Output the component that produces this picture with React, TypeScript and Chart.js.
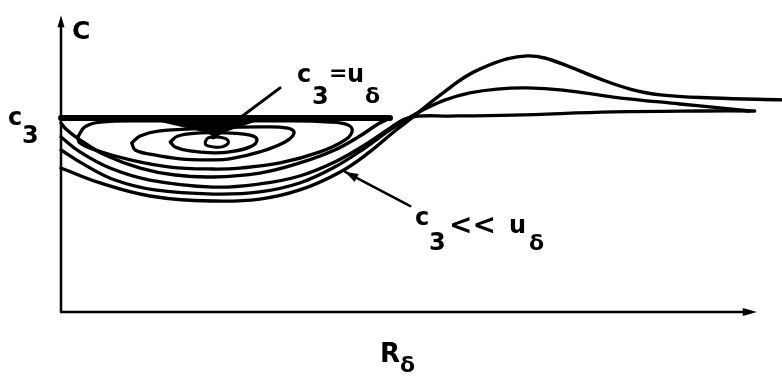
import { useEffect, useRef } from "react";
import { Chart, registerables } from "chart.js";

Chart.register(...registerables);

type P = [number, number]; // [R_delta, C]

// Level c3 and the ends of the drawn axes
const C3 = 1.0;
const AXIS_R_END = 9.94;
const AXIS_C_END = 1.53;

// Horizontal top of the outer closed loop at C = c3
const crestLine: P[] = [
  [0, C3],
  [4.7, C3],
];

// Lower half of the outer loop, returning to the axis just below c3
const outerLoop: P[] = [
  [4.7, 1.0], [4.53, 0.969], [4.27, 0.907], [3.91, 0.835], [3.41, 0.768],
  [2.84, 0.716], [2.17, 0.696], [1.63, 0.706], [1.13, 0.742], [0.63, 0.809],
  [0.27, 0.887], [0.07, 0.943], [0, 0.974],
];

// Nested closed orbits around the centre point
const orbitD: P[] = [
  [0.24, 0.902], [0.34, 0.954], [0.56, 0.979], [1.27, 0.985], [2.17, 0.985],
  [3.13, 0.985], [3.84, 0.979], [4.1, 0.964], [4.16, 0.933], [4.06, 0.887],
  [3.7, 0.825], [3.13, 0.768], [2.56, 0.742], [2.17, 0.737], [1.56, 0.747],
  [0.99, 0.784], [0.49, 0.835], [0.27, 0.871], [0.24, 0.902],
];
const orbitC: P[] = [
  [1.01, 0.871], [1.13, 0.907], [1.41, 0.933], [2.17, 0.948], [2.84, 0.954],
  [3.24, 0.948], [3.33, 0.923], [3.2, 0.876], [2.84, 0.825], [2.41, 0.789],
  [2.17, 0.784], [1.7, 0.789], [1.27, 0.814], [1.06, 0.835], [1.01, 0.871],
];
const orbitB: P[] = [
  [1.56, 0.876], [1.67, 0.907], [1.99, 0.923], [2.34, 0.923], [2.7, 0.912],
  [2.8, 0.887], [2.7, 0.851], [2.41, 0.825], [2.17, 0.82], [1.84, 0.83],
  [1.63, 0.851], [1.56, 0.876],
];
const orbitA: P[] = [
  [2.06, 0.876], [2.1, 0.897], [2.21, 0.902], [2.36, 0.892], [2.39, 0.871],
  [2.3, 0.851], [2.17, 0.851], [2.07, 0.861], [2.06, 0.876],
];
// Dark funnel joining the centre to the c3 line
const centreFunnel: P[] = [
  [1.41, 0.985], [2.77, 0.985], [2.3, 0.928], [2.2, 0.9], [2.1, 0.928],
  [1.41, 0.985],
];

// Open trajectories (c3 << u_delta) leaving the axis below c3
const pathFlat: P[] = [
  [0, 0.902], [0.27, 0.825], [0.7, 0.742], [1.27, 0.68], [2.17, 0.644],
  [2.84, 0.66], [3.41, 0.701], [3.91, 0.773], [4.34, 0.861], [4.7, 0.948],
  [4.91, 0.995], [5.1, 1.01], [5.56, 1.01], [6.46, 1.015], [7.89, 1.031],
  [9.13, 1.036], [9.91, 1.036],
];
const pathMid: P[] = [
  [0, 0.835], [0.34, 0.758], [0.77, 0.68], [1.34, 0.629], [2.17, 0.608],
  [2.84, 0.619], [3.41, 0.665], [3.91, 0.747], [4.34, 0.845], [4.7, 0.938],
  [4.99, 1.005], [5.17, 1.041], [5.49, 1.093], [5.84, 1.129], [6.23, 1.149],
  [6.66, 1.155], [7.17, 1.144], [7.89, 1.108], [8.84, 1.072], [9.41, 1.052],
  [9.84, 1.036],
];
const pathPeak: P[] = [
  [0, 0.742], [0.56, 0.665], [1.27, 0.598], [2.17, 0.572], [2.84, 0.582],
  [3.41, 0.629], [3.99, 0.722], [4.41, 0.825], [4.77, 0.933], [5.03, 1.005],
  [5.27, 1.077], [5.51, 1.144], [5.77, 1.211], [5.99, 1.253], [6.37, 1.304],
  [6.66, 1.32], [6.91, 1.309], [7.27, 1.263], [7.7, 1.201], [8.13, 1.149],
  [8.56, 1.119], [9.31, 1.103], [10.3, 1.093],
];

// Leader lines for the two annotations
const leaderCentre: P[] = [
  [3.13, 1.155],
  [2.17, 0.897],
];
const leaderOpen: P[] = [
  [4.99, 0.546],
  [4.06, 0.722],
];

const INK = "#000";
const FONT = '"DejaVu Sans", "Liberation Sans", sans-serif';

type Run = [string, number, number, number]; // text, size, dx, dy (px)

function arrowHead(
  ctx: CanvasRenderingContext2D,
  fx: number, fy: number, tx: number, ty: number,
  len: number, half: number
) {
  const a = Math.atan2(ty - fy, tx - fx);
  const bx = tx - len * Math.cos(a);
  const by = ty - len * Math.sin(a);
  ctx.beginPath();
  ctx.moveTo(tx, ty);
  ctx.lineTo(bx + half * Math.sin(a), by - half * Math.cos(a));
  ctx.lineTo(bx - half * Math.sin(a), by + half * Math.cos(a));
  ctx.closePath();
  ctx.fill();
}

const sketchPlugin = {
  id: "sketch",
  afterDatasetsDraw(chart: any) {
    const { ctx } = chart;
    const xs = chart.scales.x;
    const ys = chart.scales.y;
    const px = (v: number) => xs.getPixelForValue(v);
    const py = (v: number) => ys.getPixelForValue(v);
    ctx.save();
    ctx.strokeStyle = INK;
    ctx.fillStyle = INK;
    ctx.lineCap = "round";
    ctx.lineJoin = "round";

    // axes
    ctx.lineWidth = 2.5;
    ctx.beginPath();
    ctx.moveTo(px(0), py(AXIS_C_END) + 6);
    ctx.lineTo(px(0), py(0));
    ctx.lineTo(px(AXIS_R_END) - 8, py(0));
    ctx.stroke();
    arrowHead(ctx, px(0), py(0), px(AXIS_R_END), py(0), 14, 4);
    arrowHead(ctx, px(0), py(0), px(0), py(AXIS_C_END), 12, 3.5);

    // arrow tip of the lower leader
    const [a, b] = leaderOpen;
    arrowHead(ctx, px(a[0]), py(a[1]), px(b[0]), py(b[1]), 13, 4.5);

    // labels
    const write = (r: number, c: number, runs: Run[]) => {
      const x0 = px(r);
      const y0 = py(c);
      ctx.textBaseline = "alphabetic";
      ctx.textAlign = "left";
      for (const [t, size, dx, dy] of runs) {
        ctx.font = `bold ${size}px ${FONT}`;
        ctx.fillText(t, x0 + dx, y0 + dy);
      }
    };
    write(0.157, 1.407, [["C", 25, 0, 0]]);
    write(-0.757, 0.964, [["c", 24, 0, 0], ["3", 24, 14, 18]]);
    write(3.371, 1.186, [
      ["c", 24, 0, 0],
      ["3", 24, 15, 22],
      ["=", 22, 32, -2],
      ["u", 24, 50, 0],
      ["δ", 22, 68, 21],
    ]);
    write(5.057, 0.448, [
      ["c", 24, 0, 0],
      ["3", 24, 14, 25],
      ["<<", 28, 34, 9],
      ["u", 24, 94, 8],
      ["δ", 22, 114, 25],
    ]);
    write(4.557, -0.258, [["R", 26, 0, 0], ["δ", 22, 20, 10]]);
    ctx.restore();
  },
};

const toXY = (p: P[]) => p.map(([x, y]) => ({ x, y }));

const curve = (data: P[], width = 3.3, tension = 0.4) => ({
  data: toXY(data),
  showLine: true,
  borderColor: INK,
  borderWidth: width,
  pointRadius: 0,
  tension,
  borderCapStyle: "round" as const,
  borderJoinStyle: "round" as const,
  clip: false as const,
});

export default function App() {
  const ref = useRef<HTMLCanvasElement | null>(null);

  useEffect(() => {
    if (!ref.current) return;
    const chart = new Chart(ref.current, {
      type: "scatter",
      data: {
        datasets: [
          { ...curve(centreFunnel, 2, 0), fill: "shape", backgroundColor: INK },
          curve(crestLine, 6, 0),
          curve(outerLoop, 3.4),
          curve(orbitD, 3.3),
          curve(orbitC, 3.3),
          curve(orbitB, 3.3),
          curve(orbitA, 3),
          curve(pathFlat),
          curve(pathMid),
          curve(pathPeak, 3.4),
          curve(leaderCentre, 3, 0),
          curve(leaderOpen, 2.5, 0),
        ],
      },
      options: {
        animation: false,
        responsive: true,
        maintainAspectRatio: false,
        layout: { padding: { left: 61, right: 0, top: 0, bottom: 70 } },
        plugins: {
          legend: { display: false },
          tooltip: { enabled: false },
        },
        events: [],
        scales: {
          x: { type: "linear", min: 0, max: 10.3, display: false },
          y: { type: "linear", min: 0, max: 1.608, display: false },
        },
      },
      plugins: [sketchPlugin],
    });
    return () => chart.destroy();
  }, []);

  return (
    <div
      style={{
        position: "absolute",
        left: 0,
        top: 0,
        width: 782,
        height: 382,
        background: "#fff",
      }}
    >
      <canvas ref={ref} />
    </div>
  );
}
